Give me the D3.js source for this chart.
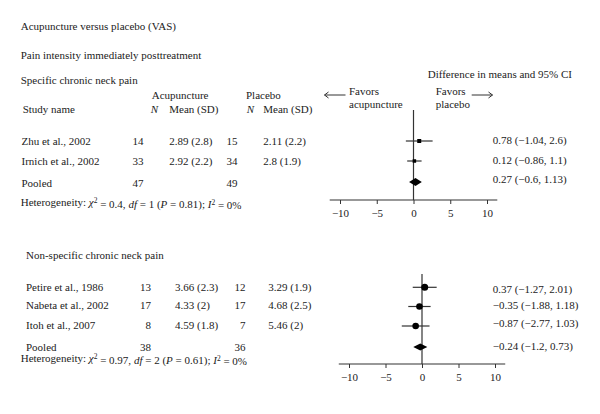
<!DOCTYPE html>
<html><head><meta charset="utf-8">
<script src="https://cdn.jsdelivr.net/npm/d3@7"></script>
<style>body{margin:0;background:#fff}svg{display:block}</style>
</head><body>
<script>
// ---- data ----
const topStudies = ["Zhu et al., 2002", "Irnich et al., 2002"];
const topNAcu = [14, 33];
const topMeanAcu = ["2.89 (2.8)", "2.92 (2.2)"];
const topNPla = [15, 34];
const topMeanPla = ["2.11 (2.2)", "2.8 (1.9)"];
const topEffect = [0.78, 0.12];
const topLower = [-1.04, -0.86];
const topUpper = [2.6, 1.1];
const topPooled = {nA: 47, nP: 49, effect: 0.27, lower: -0.6, upper: 1.13};
const topHet = {chi: "0.4", df: "1", p: "0.81", i2: "0%"};

const botStudies = ["Petire et al., 1986", "Nabeta et al., 2002", "Itoh et al., 2007"];
const botNAcu = [13, 17, 8];
const botMeanAcu = ["3.66 (2.3)", "4.33 (2)", "4.59 (1.8)"];
const botNPla = [12, 17, 7];
const botMeanPla = ["3.29 (1.9)", "4.68 (2.5)", "5.46 (2)"];
const botEffect = [0.37, -0.35, -0.87];
const botLower = [-1.27, -1.88, -2.77];
const botUpper = [2.01, 1.18, 1.03];
const botPooled = {nA: 38, nP: 36, effect: -0.24, lower: -1.2, upper: 0.73};
const botHet = {chi: "0.97", df: "2", p: "0.61", i2: "0%"};

const axisTicks = [-10, -5, 0, 5, 10];

// ---- drawing ----
const W = 600, H = 414;
const FONT = '"Liberation Serif", serif';
const svg = d3.select("body").append("svg").attr("width", W).attr("height", H)
  .style("font-family", FONT).style("font-size", "11px");
const fmt = v => String(v).replace("-", "\u2212");

function txt(x, y, s, opts = {}) {
  const t = svg.append("text").attr("x", x).attr("y", y).attr("dy", "0.35em")
    .style("font-family", FONT).style("font-size", "11px").attr("fill", "#222").text(s);
  if (opts.anchor) t.attr("text-anchor", opts.anchor);
  if (opts.italic) t.style("font-style", "italic");
  return t;
}

function het(x, y, h) {
  const t = svg.append("text").attr("x", x).attr("y", y).attr("dy", "0.35em")
    .style("font-family", FONT).style("font-size", "11px").attr("fill", "#222");
  t.append("tspan").text("Heterogeneity: ");
  t.append("tspan").style("font-style", "italic").text("\u03C7");
  t.append("tspan").attr("dy", "-0.4em").style("font-size", "7.5px").text("2");
  t.append("tspan").attr("dy", "0.4em").text(" = " + h.chi + ", ");
  t.append("tspan").style("font-style", "italic").text("df");
  t.append("tspan").text(" = " + h.df + " (");
  t.append("tspan").style("font-style", "italic").text("P");
  t.append("tspan").text(" = " + h.p + "); ");
  t.append("tspan").style("font-style", "italic").text("I");
  t.append("tspan").attr("dy", "-0.4em").style("font-size", "7.5px").text("2");
  t.append("tspan").attr("dy", "0.4em").text(" = " + h.i2);
}

function panel(cfg) {
  const x = d3.scaleLinear().domain([-10, 10]).range(cfg.xr);
  const n = cfg.studies.length;
  cfg.studies.forEach((s, i) => {
    const y = cfg.rowY[i];
    txt(cfg.col.name, y, s);
    txt(cfg.col.nA, y, cfg.nA[i], {anchor: "end"});
    txt(cfg.col.mA, y, cfg.mA[i]);
    txt(cfg.col.nP, y, cfg.nP[i], {anchor: "end"});
    txt(cfg.col.mP, y, cfg.mP[i]);
  });
  txt(cfg.col.name, cfg.pooledY, "Pooled");
  txt(cfg.col.nA, cfg.pooledY, cfg.pooled.nA, {anchor: "end"});
  txt(cfg.col.nP, cfg.pooledY, cfg.pooled.nP, {anchor: "end"});
  het(20.7, cfg.hetY, cfg.het);

  const g = svg.append("g").attr("transform", `translate(0,${cfg.axisY})`);
  g.append("line").attr("x1", x(-11.4)).attr("x2", x(11.4)).attr("y1", 0).attr("y2", 0)
    .attr("stroke", "#333").attr("stroke-width", 1.2);
  const ax = d3.axisBottom(x).tickValues(axisTicks).tickSize(4).tickPadding(5);
  const ag = g.append("g").call(ax);
  ag.attr("font-family", null).attr("font-size", null);
  ag.select(".domain").remove();
  ag.selectAll(".tick line").attr("stroke", "#333");
  ag.selectAll("text").style("font-family", FONT).style("font-size", "11px").attr("fill", "#222");

  svg.append("line").attr("x1", x(0)).attr("x2", x(0)).attr("y1", cfg.zeroTop).attr("y2", cfg.axisY)
    .attr("stroke", "#333").attr("stroke-width", 1.2);

  cfg.effect.forEach((e, i) => {
    const y = cfg.markY[i];
    svg.append("line").attr("x1", x(cfg.lower[i])).attr("x2", x(cfg.upper[i]))
      .attr("y1", y).attr("y2", y).attr("stroke", "#333").attr("stroke-width", 1.2);
    if (cfg.square) {
      const s = cfg.msize[i];
      svg.append("rect").attr("x", x(e) - s / 2).attr("y", y - s / 2).attr("width", s).attr("height", s).attr("fill", "#000");
    } else {
      svg.append("circle").attr("cx", x(e)).attr("cy", y).attr("r", cfg.msize[i]).attr("fill", "#000");
    }
    txt(cfg.labX, cfg.labY[i], `${fmt(e)} (${fmt(cfg.lower[i])}, ${fmt(cfg.upper[i])})`);
  });
  const p = cfg.pooled, py = cfg.diaY, dh = cfg.diaH;
  svg.append("path").attr("d",
    `M${x(p.lower)},${py} L${x(p.effect)},${py - dh} L${x(p.upper)},${py} L${x(p.effect)},${py + dh} Z`)
    .attr("fill", "#000");
  txt(cfg.labX, cfg.labY[n], `${fmt(p.effect)} (${fmt(p.lower)}, ${fmt(p.upper)})`);
}

txt(20.7, 26, "Acupuncture versus placebo (VAS)");
txt(20.7, 55, "Pain intensity immediately posttreatment");
txt(20.7, 80, "Specific chronic neck pain");
txt(151.7, 95, "Acupuncture");
txt(246, 95, "Placebo");
txt(22.7, 109, "Study name");
txt(150.7, 109, "N", {italic: true});
txt(169.3, 109, "Mean (SD)");
txt(246.7, 109, "N", {italic: true});
txt(263.3, 109, "Mean (SD)");
txt(427.7, 74, "Difference in means and 95% CI");
txt(349, 91, "Favors");
txt(349, 104.5, "acupuncture");
txt(435.7, 91, "Favors");
txt(435.7, 104.5, "placebo");
const arr = (x1, x2, y) => {
  svg.append("line").attr("x1", x1).attr("x2", x2).attr("y1", y).attr("y2", y).attr("stroke", "#333").attr("stroke-width", 1);
  const d = x2 > x1 ? -1 : 1;
  svg.append("path").attr("d", `M${x2 + d * 4},${y - 3} L${x2},${y} L${x2 + d * 4},${y + 3}`)
    .attr("fill", "none").attr("stroke", "#333").attr("stroke-width", 1);
};
arr(345.5, 324.5, 95);
arr(471.7, 492.5, 95);

txt(26, 255, "Non-specific chronic neck pain");

panel({
  xr: [340, 487], studies: topStudies, nA: topNAcu, mA: topMeanAcu, nP: topNPla, mP: topMeanPla,
  effect: topEffect, lower: topLower, upper: topUpper, pooled: topPooled, het: topHet,
  col: {name: 21.5, nA: 143.5, mA: 169.3, nP: 237.5, mP: 263.3},
  rowY: [141.5, 161.5], pooledY: 183, hetY: 202.5,
  axisY: 200, zeroTop: 110, markY: [141, 161], square: true, msize: [4, 3.5],
  diaY: 182, diaH: 4, labX: 492.7, labY: [140, 160, 179.5]
});
panel({
  xr: [349, 495], studies: botStudies, nA: botNAcu, mA: botMeanAcu, nP: botNPla, mP: botMeanPla,
  effect: botEffect, lower: botLower, upper: botUpper, pooled: botPooled, het: botHet,
  col: {name: 26, nA: 151, mA: 175, nP: 245.5, mP: 268.3},
  rowY: [287, 305.5, 325], pooledY: 347.5, hetY: 358.5,
  axisY: 364, zeroTop: 274, markY: [287.3, 306.5, 326], square: false, msize: [3.5, 3.3, 3.3],
  diaY: 347, diaH: 3.5, labX: 492.7, labY: [289, 305, 323.5, 346]
});
</script>
</body></html>
